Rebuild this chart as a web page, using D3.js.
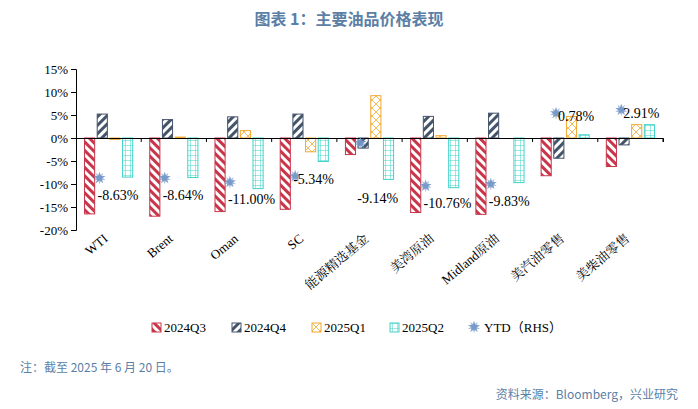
<!DOCTYPE html>
<html><head><meta charset="utf-8">
<script src="https://cdn.jsdelivr.net/npm/d3@7"></script>
<style>
body{margin:0;background:#fff;font-family:"Noto Sans CJK SC","Noto Sans",sans-serif;}
.tick text{font-family:"Liberation Serif","Noto Sans CJK SC",serif;font-size:13px;fill:#000;}
</style></head>
<body><div id="chart"></div>
<script>
// data
var categories = ["WTI","Brent","Oman","SC","能源精选基金","美湾原油","Midland原油","美汽油零售","美柴油零售"];
var q3 = [-16.5,-17.0,-16.0,-15.5,-3.6,-16.2,-16.6,-8.2,-6.2];
var q4 = [5.2,4.0,4.6,5.2,-2.2,4.7,5.4,-4.4,-1.5];
var q1 = [-0.3,0.2,1.6,-3.0,9.2,0.5,0.0,4.7,2.9];
var q2 = [-8.5,-8.6,-11.0,-5.1,-9.0,-10.8,-9.7,0.7,2.9];
var ytdLabels = ["-8.63%","-8.64%","-11.00%","-5.34%","-9.14%","-10.76%","-9.83%","0.78%","2.91%"];
var ytdPlot = [-8.7,-8.7,-9.6,-8.3,-1.1,-10.4,-10.0,5.4,6.1];
var yTicks = [15,10,5,0,-5,-10,-15,-20];
var seriesNames = ["2024Q3","2024Q4","2025Q1","2025Q2"];

var width = 698, height = 409;
var margin = {left:76, right:35, top:69, bottom:179};

var svg = d3.select("#chart").append("svg").attr("width",width).attr("height",height);
var defs = svg.append("defs");

function pat(id, color, draw){
  var p = defs.append("pattern").attr("id",id).attr("patternUnits","userSpaceOnUse")
    .attr("width",6).attr("height",6);
  p.append("rect").attr("width",6).attr("height",6).attr("fill","#fff");
  draw(p, color);
}
pat("p3","#c8364a",(p,c)=>{p.attr("patternTransform","rotate(-45)");p.append("rect").attr("width",3).attr("height",6).attr("fill",c);});
pat("p4","#44546a",(p,c)=>{p.attr("patternTransform","rotate(45)");p.append("rect").attr("width",3).attr("height",6).attr("fill",c);});
pat("p1","#f0a830",(p,c)=>{p.attr("width",8).attr("height",8);
  p.select("rect").attr("width",8).attr("height",8);
  p.append("path").attr("d","M0,0L8,8M8,0L0,8").attr("stroke",c).attr("stroke-width",0.8);});
pat("p2","#3fd3c9",(p,c)=>{p.attr("width",5).attr("height",5);
  p.select("rect").attr("width",5).attr("height",5);
  p.append("path").attr("d","M0,0H5M0,0V5").attr("stroke",c).attr("stroke-width",1);});
var colors = ["#c8364a","#44546a","#f0a830","#3fd3c9"];
var fills = ["url(#p3)","url(#p4)","url(#p1)","url(#p2)"];
var series = [q3,q4,q1,q2];

// title
svg.append("text").attr("x",width/2).attr("y",25).attr("text-anchor","middle")
  .attr("font-size",16).attr("font-weight","bold").attr("fill","#5b7fa6").text("图表 1：主要油品价格表现");

var x = d3.scaleBand().domain(categories).range([margin.left, width-margin.right]);
var xs = d3.scaleBand().domain(d3.range(4)).range([6, x.bandwidth()-6]).padding(0.2);
var y = d3.scaleLinear().domain([-20,15]).range([height-margin.bottom, margin.top]);

svg.append("g").attr("transform",`translate(${margin.left},0)`)
  .call(d3.axisLeft(y).tickValues(yTicks).tickFormat(d=>d+"%").tickSize(5))
  .call(g=>g.selectAll(".tick text").attr("font-family","Liberation Serif").attr("font-size",13))
  .call(g=>g.selectAll("line,path").attr("stroke","#000"));

series.forEach((s,i)=>{
  svg.append("g").selectAll("rect").data(s).join("rect")
    .attr("x",(d,j)=>x(categories[j])+xs(i))
    .attr("width",xs.bandwidth())
    .attr("y",d=>y(Math.max(0,d)))
    .attr("height",d=>Math.abs(y(d)-y(0)))
    .attr("fill",fills[i]).attr("stroke",colors[i]).attr("stroke-width",1);
});

var xa = svg.append("g").attr("transform",`translate(0,${y(0)})`)
  .call(d3.axisBottom(x).tickSize(4).tickFormat(""));
xa.selectAll("line,path").attr("stroke","#000");
xa.selectAll(".tick line").attr("transform",`translate(${x.bandwidth()/2},0)`);

// category labels
svg.append("g").selectAll("text").data(categories).join("text")
  .attr("transform",d=>`translate(${x(d)+x.bandwidth()/2},${y(-20)+10}) rotate(-40)`)
  .attr("text-anchor","end").attr("font-size",13)
  .attr("font-family","Liberation Serif,Noto Serif CJK SC,Noto Sans CJK SC")
  .text(d=>d);

// YTD markers
var star = d3.symbol().type(d3.symbolStar).size(45);
function marker(g){
  g.append("path").attr("d",star).attr("fill","#7196c8").attr("opacity",0.9);
  g.append("path").attr("d",star).attr("transform","rotate(36)").attr("fill","#7196c8").attr("opacity",0.6);
}
svg.append("g").selectAll("g").data(ytdPlot).join("g")
  .attr("transform",(d,j)=>`translate(${x(categories[j])+x.bandwidth()*0.36},${y(d)})`)
  .each(function(){marker(d3.select(this));});
var lblDy = [22,22,22,8,60,22,22,8,8];
svg.append("g").selectAll("text").data(ytdLabels).join("text")
  .attr("x",(d,j)=>x(categories[j])+x.bandwidth()*0.36+(ytdPlot[j]>0?2:(j==4?-3:-2)))
  .attr("y",(d,j)=>y(ytdPlot[j])+lblDy[j])
  .attr("font-family","Liberation Serif").attr("font-size",14).text(d=>d);

// legend
var lg = svg.append("g").attr("transform","translate(152,323)");
var lx = [0,80,160,238,318];
seriesNames.forEach((n,i)=>{
  lg.append("rect").attr("x",lx[i]).attr("y",0).attr("width",9).attr("height",9)
    .attr("fill",fills[i]).attr("stroke",colors[i]);
  lg.append("text").attr("x",lx[i]+12).attr("y",9).attr("font-family","Liberation Serif").attr("font-size",13).text(n);
});
marker(lg.append("g").attr("transform",`translate(${lx[4]+4},4)`));
lg.append("text").attr("x",lx[4]+14).attr("y",9).attr("font-family","Liberation Serif,Noto Sans CJK SC").attr("font-size",13).text("YTD（RHS）");

svg.append("text").attr("x",20).attr("y",372).attr("font-size",12).attr("fill","#5b7fa6").text("注：截至 2025 年 6 月 20 日。");
svg.append("text").attr("x",678).attr("y",399).attr("text-anchor","end").attr("font-size",12).attr("fill","#5b7fa6").text("资料来源：Bloomberg，兴业研究");
</script></body></html>
